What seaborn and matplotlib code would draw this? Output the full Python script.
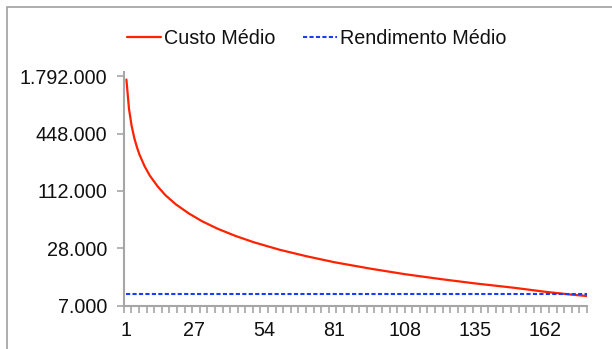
import matplotlib
matplotlib.use("Agg")
import matplotlib.pyplot as plt
from matplotlib.patches import Rectangle
from matplotlib.ticker import FixedLocator, FuncFormatter, NullLocator
import numpy as np
import pandas as pd
import seaborn as sns

# values
quantidade = [1, 2, 3, 4, 5, 6, 8, 10, 13, 16, 20, 25, 30, 36, 43, 50, 60, 70,
              81, 95, 108, 122, 135, 150, 162, 172, 178]
custo_medio = [1650000, 810000, 540000, 405000, 325000, 270000, 203000, 162000,
               125000, 101000, 81000, 65000, 54000, 45000, 37700, 32400, 27000,
               23200, 20000, 17100, 15000, 13300, 12000, 10800, 9800, 9150, 8850]
rendimento_medio = [9250] * len(quantidade)

y_ticks = [7000, 28000, 112000, 448000, 1792000]
x_ticks = [1, 27, 54, 81, 108, 135, 162]

df = pd.DataFrame({"q": quantidade, "custo": custo_medio, "rend": rendimento_medio})

sns.set_style("white")
plt.rcParams["font.family"] = ["Liberation Sans", "DejaVu Sans"]

fig = plt.figure(figsize=(6.12, 3.49), dpi=100)
ax = fig.add_axes([0.2023, 0.124, 0.959 - 0.2023, 0.7937 - 0.124])

sns.lineplot(data=df, x="q", y="custo", ax=ax, color="#ff2200", lw=1.6,
             label="Custo Médio")
sns.lineplot(data=df, x="q", y="rend", ax=ax, color="#1a3cff", lw=1.5,
             dashes=False, linestyle=(0, (2.0, 1.1)), label="Rendimento Médio")

ax.set_yscale("log")
ax.set_ylim(7000, 1.98e6)
ax.set_xlim(0, 178)
ax.yaxis.set_major_locator(FixedLocator(y_ticks))
ax.yaxis.set_minor_locator(NullLocator())
ax.yaxis.set_major_formatter(
    FuncFormatter(lambda v, _: f"{int(round(v)):,}".replace(",", ".")))
ax.xaxis.set_major_locator(FixedLocator(x_ticks))
ax.xaxis.set_minor_locator(FixedLocator(np.linspace(0, 178, 62)))
ax.set_xlabel("")
ax.set_ylabel("")

for side in ["top", "right"]:
    ax.spines[side].set_visible(False)
for side in ["left", "bottom"]:
    ax.spines[side].set_color("#a6a6a6")
    ax.spines[side].set_linewidth(1.5)

ax.tick_params(axis="y", which="major", length=5, width=1.2, color="#a6a6a6",
               labelsize=14.2, pad=7, direction="out", left=True,
               labelcolor="#111111")
ax.tick_params(axis="x", which="major", length=0, labelsize=14.2, pad=11,
               bottom=True, labelcolor="#111111")
ax.tick_params(axis="x", which="minor", length=5, width=1.2, color="#a6a6a6",
               direction="out", bottom=True)

ax.get_legend().remove()
handles, labels = ax.get_legend_handles_labels()
fig.legend(handles, labels, loc="center", bbox_to_anchor=(0.517, 0.891),
           ncol=2, frameon=False, fontsize=14.2, handlelength=1.75,
           handletextpad=0.12, columnspacing=1.4, labelcolor="#111111")

fig.patches.append(Rectangle((7 / 612, -0.1), 1.2, (349 - 7) / 349 + 0.1,
                             transform=fig.transFigure, fill=False,
                             edgecolor="#a0a0a0", lw=1.2))

fig.savefig("out.png", dpi=100)
